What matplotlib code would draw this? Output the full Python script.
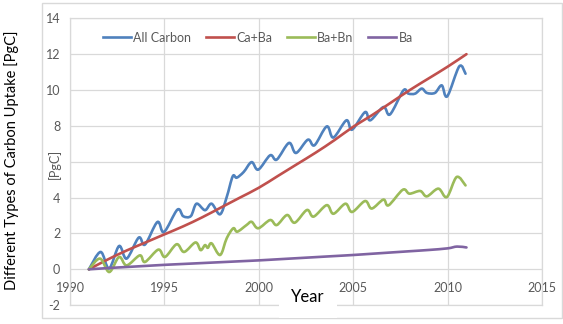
import matplotlib
matplotlib.use('Agg')
import matplotlib.pyplot as plt
import numpy as np
from matplotlib.path import Path
from matplotlib.patches import PathPatch, Rectangle
from matplotlib.lines import Line2D

plt.rcParams['font.family'] = ['Lato', 'DejaVu Sans']

# cumulative uptake [PgC], read at peaks / troughs of the seasonal cycle
all_yr = [1991.0, 1991.62, 1992.07, 1992.6, 1993.0, 1993.64, 1993.97, 1994.63, 1994.98,
          1995.69, 1996.0, 1996.4, 1996.7, 1997.15, 1997.5, 1997.95, 1998.3, 1998.62,
          1998.83, 1999.2, 1999.62, 1999.97, 2000.6, 2000.95, 2001.6, 2001.97, 2002.6,
          2002.95, 2003.6, 2003.95, 2004.64, 2004.94, 2005.63, 2005.9, 2006.6, 2006.95,
          2007.66, 2007.92, 2008.28, 2008.63, 2008.9, 2009.33, 2009.69, 2009.98, 2010.62,
          2010.95]
all_val = [0.0, 0.97, 0.05, 1.3, 0.6, 1.77, 1.38, 2.64, 2.08,
           3.33, 2.96, 2.97, 3.66, 3.3, 3.66, 3.07, 4.03, 5.19,
           5.11, 5.43, 5.98, 5.56, 6.36, 6.12, 7.05, 6.49, 7.23,
           6.92, 7.97, 7.35, 8.31, 7.79, 8.77, 8.31, 9.05, 8.64,
           9.98, 9.8, 9.8, 10.08, 9.84, 9.84, 10.26, 9.65, 11.32,
           10.91]

caba_yr = [1991, 1992, 1993, 1994, 1995, 1996, 1997, 1998, 1999, 2000, 2001,
           2002, 2003, 2004, 2005, 2006, 2007, 2008, 2009, 2010, 2011]
caba_val = [0.0, 0.55, 1.05, 1.5, 1.95, 2.4, 2.9, 3.45, 4.0, 4.55, 5.2,
            5.85, 6.5, 7.2, 7.95, 8.6, 9.3, 10.0, 10.65, 11.3, 12.0]

babn_yr = [1991.0, 1991.59, 1992.08, 1992.6, 1993.0, 1993.7, 1993.97, 1994.68, 1995.03,
           1995.65, 1996.04, 1996.65, 1996.92, 1997.15, 1997.3, 1997.5, 1997.95, 1998.3,
           1998.65, 1998.86, 1999.35, 1999.62, 1999.97, 2000.6, 2000.95, 2001.5, 2001.9,
           2002.55, 2002.9, 2003.6, 2003.95, 2004.59, 2004.94, 2005.63, 2005.98, 2006.6,
           2006.87, 2007.63, 2007.98, 2008.55, 2008.9, 2009.51, 2009.96, 2010.48, 2010.95]
babn_val = [0.0, 0.6, -0.15, 0.69, 0.22, 0.78, 0.41, 1.1, 0.69,
            1.4, 0.97, 1.5, 1.07, 1.35, 1.2, 1.45, 0.8, 1.73,
            2.29, 2.1, 2.47, 2.65, 2.29, 2.75, 2.47, 3.03, 2.6,
            3.31, 2.94, 3.58, 3.1, 3.66, 3.2, 3.81, 3.39, 3.89,
            3.57, 4.44, 4.22, 4.37, 4.07, 4.5, 4.03, 5.15, 4.68]

ba_yr = [1991, 1992, 1993, 1994, 1995, 1996, 1997, 1998, 1999, 2000, 2001,
         2002, 2003, 2004, 2005, 2006, 2007, 2008, 2009, 2010, 2010.5, 2011]
ba_val = [0.0, 0.07, 0.13, 0.19, 0.25, 0.3, 0.35, 0.4, 0.45, 0.5, 0.56,
          0.62, 0.68, 0.74, 0.8, 0.87, 0.94, 1.01, 1.08, 1.17, 1.27, 1.22]

x_ticks = [1990, 1995, 2000, 2005, 2010, 2015]
y_ticks = [-2, 0, 2, 4, 6, 8, 10, 12, 14]
# the "6" slot is taken by the small unit label
y_ticklabels = ['-2', '0', '2', '4', '', '8', '10', '12', '14']

series = [
    ('All Carbon', all_yr, all_val, '#4F81BD'),
    ('Ca+Ba', caba_yr, caba_val, '#C0504D'),
    ('Ba+Bn', babn_yr, babn_val, '#9BBB59'),
    ('Ba', ba_yr, ba_val, '#8064A2'),
]

GRID = '#D9D9D9'
TXT = '#595959'


def smooth_path(xs, ys):
    # Catmull-Rom style smoothed line as cubic Bezier segments
    pts = np.column_stack([xs, ys]).astype(float)
    ext = np.vstack([pts[0], pts, pts[-1]])
    verts = [pts[0]]
    codes = [Path.MOVETO]
    for i in range(len(pts) - 1):
        p0, p1, p2, p3 = ext[i], ext[i + 1], ext[i + 2], ext[i + 3]
        verts += [p1 + (p2 - p0) / 6, p2 - (p3 - p1) / 6, p2]
        codes += [Path.CURVE4] * 3
    return Path(verts, codes)


fig = plt.figure(figsize=(5.63, 3.24), dpi=100)
ax = fig.add_axes([70 / 563, 1 - 305.2 / 324, 472 / 563, 286.9 / 324])

# chart frame
fig.patches.append(Rectangle((42 / 563, 6 / 324), 520 / 563, 315.5 / 324,
                             transform=fig.transFigure, fill=False,
                             edgecolor=GRID, lw=1.0, zorder=0))

handles = []
for name, xs, ys, col in series:
    ax.add_patch(PathPatch(smooth_path(xs, ys), facecolor='none', edgecolor=col,
                           lw=1.9, capstyle='round', joinstyle='round'))
    handles.append(Line2D([], [], color=col, lw=1.9, label=name))

ax.set_xlim(1990, 2015)
ax.set_ylim(-2, 14)
ax.set_xticks(x_ticks)
ax.set_yticks(y_ticks)
ax.set_yticklabels(y_ticklabels)
ax.grid(True, color=GRID, lw=0.9)
ax.set_axisbelow(True)
for sp in ax.spines.values():
    sp.set_color(GRID)
    sp.set_linewidth(0.9)
ax.tick_params(axis='both', length=0, labelcolor=TXT, labelsize=9)
ax.tick_params(axis='x', pad=-16.5)
ax.tick_params(axis='y', pad=7)

ax.legend(handles=handles, loc='center left', bbox_to_anchor=(103 / 563, 1 - 37.7 / 324),
          bbox_transform=fig.transFigure, ncol=4, frameon=False, fontsize=9,
          handlelength=2.2, handletextpad=0.2, columnspacing=1.2,
          borderpad=0, borderaxespad=0, labelcolor=TXT)

fig.text(12 / 563, 1 - 160 / 324, 'Different Types of Carbon Uptake [PgC]',
         rotation=90, ha='center', va='center', fontsize=10.5, color='#000000')
fig.text(54 / 563, 1 - 164 / 324, '[PgC]', rotation=90, ha='center', va='center',
         fontsize=9, color=TXT)
fig.text(308 / 563, 1 - 297 / 324, 'Year', ha='center', va='center',
         fontsize=12, color='#000000',
         bbox=dict(facecolor='white', edgecolor='none', pad=9))

fig.savefig('out.png', dpi=100)
